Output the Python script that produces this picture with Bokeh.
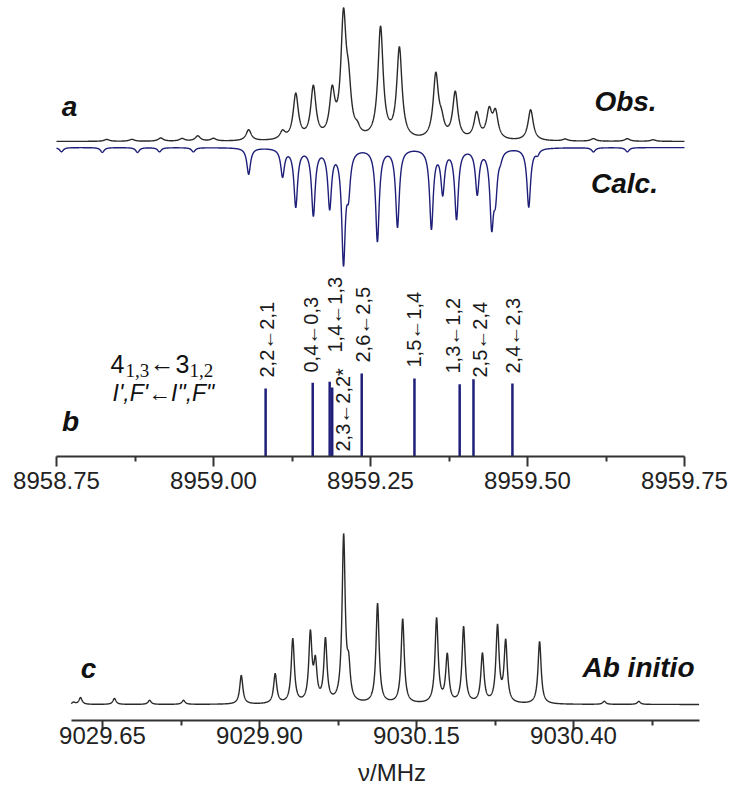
import numpy as np
from bokeh.plotting import figure
from bokeh.models import Range1d, FixedTicker, PrintfTickFormatter, Label
from bokeh.layouts import column
from bokeh.embed import file_html
from bokeh.resources import INLINE

# ---------------- data ----------------
# panel a, observed spectrum: line centres (MHz) and relative intensities
obs_freq = [8958.830, 8958.870, 8958.916, 8958.950, 8958.975, 8959.000, 8959.056,
            8959.110, 8959.131, 8959.159, 8959.189, 8959.207, 8959.215, 8959.229,
            8959.266, 8959.296, 8959.354, 8959.363, 8959.385, 8959.419, 8959.439,
            8959.449, 8959.505, 8959.560, 8959.605, 8959.659, 8959.700]
obs_int = [0.015, 0.015, 0.025, 0.02, 0.04, 0.02, 0.085,
           0.06, 0.35, 0.40, 0.34, 0.90, 0.33, 0.05,
           0.86, 0.70, 0.49, 0.11, 0.36, 0.20, 0.21,
           0.20, 0.24, 0.015, 0.02, 0.02, 0.012]

# panel a, calculated spectrum (drawn downwards)
calc_freq = [8958.758, 8958.823, 8958.879, 8958.914, 8958.968, 8959.056, 8959.110,
             8959.131, 8959.159, 8959.185, 8959.207, 8959.215, 8959.261, 8959.293,
             8959.347, 8959.365, 8959.387, 8959.420, 8959.443, 8959.449, 8959.457,
             8959.502, 8959.516, 8959.605, 8959.659]
calc_int = [0.035, 0.04, 0.04, 0.035, 0.035, 0.22, 0.23,
            0.48, 0.55, 0.48, 0.92, 0.30, 0.77, 0.65,
            0.66, 0.36, 0.58, 0.37, 0.60, 0.33, 0.05,
            0.49, 0.04, 0.035, 0.035]

# panel b, stick spectrum
stick_labels = ["2,2\u21902,1", "0,4\u21900,3", "1,4\u21901,3", "2,3\u21902,2*", "2,6\u21902,5",
                "1,5\u21901,4", "1,3\u21901,2", "2,5\u21902,4", "2,4\u21902,3"]
stick_freq = [8959.083, 8959.158, 8959.185, 8959.189, 8959.236,
              8959.320, 8959.392, 8959.414, 8959.476]
stick_int = [0.82, 0.89, 0.90, 0.83, 1.00, 0.94, 0.87, 0.93, 0.88]

# panel c, ab initio spectrum
abinit_freq = [9029.604, 9029.615, 9029.669, 9029.725, 9029.779, 9029.871, 9029.925,
               9029.953, 9029.981, 9029.989, 9030.005, 9030.034, 9030.042, 9030.088,
               9030.128, 9030.182, 9030.199, 9030.225, 9030.255, 9030.279, 9030.292,
               9030.346, 9030.449, 9030.504]
abinit_int = [0.012, 0.04, 0.035, 0.024, 0.024, 0.17, 0.175,
              0.38, 0.40, 0.22, 0.37, 0.98, 0.18, 0.59,
              0.50, 0.50, 0.28, 0.45, 0.29, 0.45, 0.36,
              0.37, 0.018, 0.018]

top_ticks = [8958.75, 8959.00, 8959.25, 8959.50, 8959.75]
top_minor = [8958.875, 8959.125, 8959.375, 8959.625]
bot_ticks = [9029.65, 9029.90, 9030.15, 9030.40]
bot_minor = [9029.775, 9030.025, 9030.275, 9030.525]
bot_bounds = (9029.60, 9030.60)


def spectrum(grid, freqs, ints, fwhm):
    g = np.zeros_like(grid)
    hw = fwhm / 2.0
    for f, a in zip(freqs, ints):
        g += a / (1.0 + ((grid - f) / hw) ** 2)
    return g


# ---------------- layout helpers (pixel placement) ----------------
PXM = 628.0  # pixels per MHz
W = 731
LEFT = 52                   # common left border of both figures
TOP_AX, BOT_AX = 456, 720   # page y of the two axis lines
TOP_H, BOT_TOP = 512, 512


def tx(px):
    return top_ticks[0] + (px - 56) / PXM


def ty(py):
    return TOP_AX - py


def bx(px):
    return bot_ticks[0] + (px - 102) / PXM


def by(py):
    return BOT_AX - py


INK = "#2a2a2a"
BLUE = "#1f1f7a"
FONT = "Liberation Sans, DejaVu Sans"


def style_axis(ax, ticks, minor, bounds, standoff):
    ax.ticker = FixedTicker(ticks=ticks, minor_ticks=minor)
    ax.formatter = PrintfTickFormatter(format="%.2f")
    ax.bounds = bounds
    ax.axis_line_color = "#333333"
    ax.axis_line_width = 2
    ax.major_tick_line_color = "#333333"
    ax.major_tick_line_width = 2
    ax.minor_tick_line_color = "#333333"
    ax.minor_tick_line_width = 2
    ax.major_tick_in = 0
    ax.major_tick_out = 10
    ax.minor_tick_in = 0
    ax.minor_tick_out = 5
    ax.major_label_text_font = FONT
    ax.major_label_text_font_size = "24px"
    ax.major_label_text_color = "#222222"
    ax.major_label_standoff = standoff


def lab(p, x, y, text, size, style="bold italic", align="center", baseline="middle",
        font=FONT, angle=0.0, color="#111111"):
    p.add_layout(Label(x=x, y=y, text=text, text_font=font, text_font_size=size,
                       text_font_style=style, text_align=align, text_baseline=baseline,
                       angle=angle, text_color=color))


# ---------------- top figure: panels a and b ----------------
top = figure(frame_width=W - LEFT, frame_height=TOP_AX, output_backend="svg",
             toolbar_location=None,
             x_range=Range1d(tx(LEFT), tx(W)), y_range=Range1d(0, TOP_AX),
             y_axis_location=None, min_border_left=LEFT, min_border_right=0,
             min_border_top=0, min_border_bottom=TOP_H - TOP_AX)
top.grid.visible = False
top.outline_line_color = None
style_axis(top.xaxis[0], top_ticks, top_minor, (top_ticks[0], top_ticks[-1]), 5)

grid_a = np.linspace(top_ticks[0], top_ticks[-1], 4001)
OBS_BASE, OBS_SCALE = ty(141), 129.0
CALC_BASE, CALC_SCALE = ty(147), 120.0
STICK_SCALE = 83.0

top.line(grid_a, OBS_BASE + OBS_SCALE * spectrum(grid_a, obs_freq, obs_int, 0.010),
         line_color=INK, line_width=1.4)
top.line(grid_a, CALC_BASE - CALC_SCALE * spectrum(grid_a, calc_freq, calc_int, 0.007),
         line_color=BLUE, line_width=1.4)

st_top = [v * STICK_SCALE for v in stick_int]
top.segment(x0=stick_freq, y0=[0] * len(stick_freq), x1=stick_freq, y1=st_top,
            line_color=BLUE, line_width=2.5)

# stick label placement (pixel offsets / label bottom positions)
lab_dx = [1, -2, 5, 11, 1, 0, -7, 7, 1]
lab_bottom = [377, 372, 352, 451, 362, 367, 373, 377, 373]
for f, t, dx, yb in zip(stick_freq, stick_labels, lab_dx, lab_bottom):
    xpx = 56 + (f - top_ticks[0]) * PXM + dx
    lab(top, tx(xpx), ty(yb), t, "20px", style="normal", align="left",
        baseline="middle", angle=np.pi / 2, color="#1a1a1a")

lab(top, tx(69), ty(106), "a", "28px")
lab(top, tx(625), ty(101), "Obs.", "28px")
lab(top, tx(624), ty(183), "Calc.", "28px")
lab(top, tx(70), ty(421), "b", "28px")

# rotational transition 4(1,3) <- 3(1,2)
lab(top, tx(110), ty(363), "4", "25px", style="normal", align="left", baseline="alphabetic")
lab(top, tx(125), ty(370), "1,3", "19px", style="normal", align="left", baseline="alphabetic",
    font="Liberation Serif")
lab(top, tx(149), ty(362), "\u2190", "25px", style="normal", align="left", baseline="alphabetic")
lab(top, tx(175), ty(363), "3", "25px", style="normal", align="left", baseline="alphabetic")
lab(top, tx(189), ty(370), "1,2", "19px", style="normal", align="left", baseline="alphabetic",
    font="Liberation Serif")
lab(top, tx(112), ty(392), "I',F'\u2190I\",F\"", "23px", style="italic", align="left")

# ---------------- bottom figure: panel c ----------------
bot = figure(frame_width=W - LEFT, frame_height=BOT_AX - BOT_TOP, output_backend="svg",
             toolbar_location=None,
             x_range=Range1d(bx(LEFT), bx(W)), y_range=Range1d(0, BOT_AX - BOT_TOP),
             y_axis_location=None, min_border_left=LEFT, min_border_right=0,
             min_border_top=0, min_border_bottom=78)
bot.grid.visible = False
bot.outline_line_color = None
style_axis(bot.xaxis[0], bot_ticks, bot_minor, bot_bounds, -4)
bax = bot.xaxis[0]
bax.axis_label = "\u03bd/MHz"
bax.axis_label_text_font = FONT
bax.axis_label_text_font_size = "24px"
bax.axis_label_text_font_style = "normal"
bax.axis_label_text_color = "#222222"
bax.axis_label_standoff = 12

grid_c = np.linspace(bot_bounds[0], bot_bounds[1], 4001)
C_BASE, C_SCALE = by(704), 169.0
bot.line(grid_c, C_BASE + C_SCALE * spectrum(grid_c, abinit_freq, abinit_int, 0.006),
         line_color=INK, line_width=1.4)

lab(bot, bx(88), by(668), "c", "28px")
lab(bot, bx(638), by(667), "Ab initio", "28px")

layout = column(top, bot, spacing=0)
open("out.html", "w").write(file_html(layout, INLINE))
